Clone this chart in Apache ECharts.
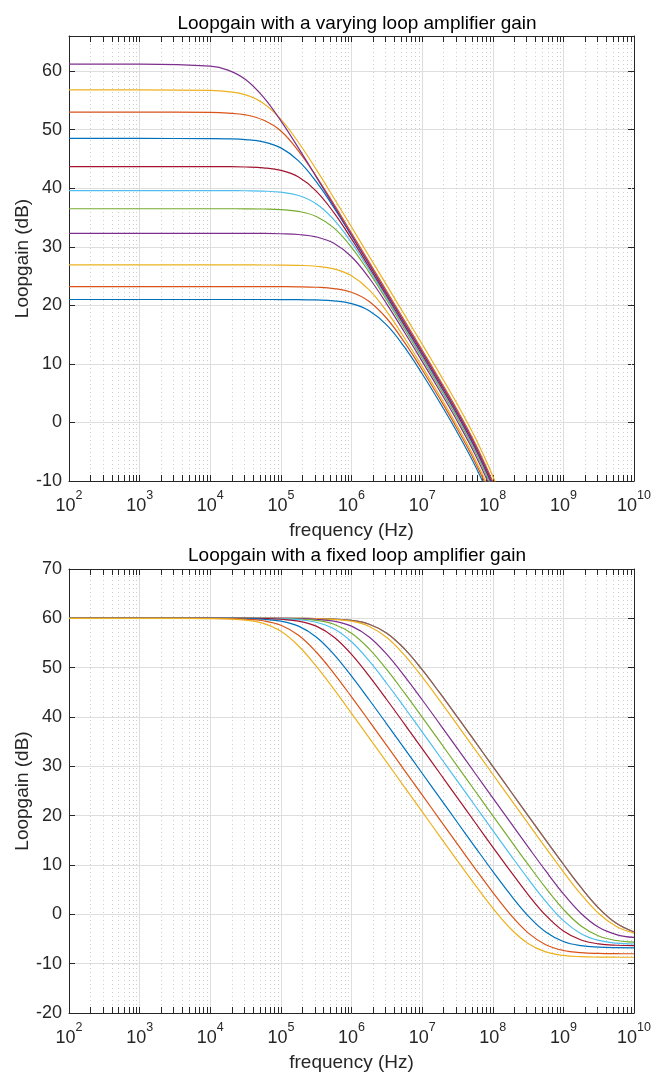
<!DOCTYPE html>
<html>
<head>
<meta charset="utf-8">
<title>Loopgain</title>
<script src="https://cdn.jsdelivr.net/npm/echarts@6/dist/echarts.min.js"></script>
<style>
html, body { margin: 0; padding: 0; background: #ffffff; }
#main { width: 654px; height: 1073px; }
</style>
</head>
<body>
<div id="main"></div>
<script>
// frequency samples (Hz), quarter decades in the bends
var freq = [100, 1000, 10000, 17783, 31623, 56234, 1e5, 177828, 316228, 562341,
    1e6, 1778279, 3162278, 5623413, 1e7, 17782794, 31622777, 56234133,
    1e8, 177827941, 316227766, 562341325, 1e9, 1778279410, 3162277660, 5623413252, 1e10];

// top plot: loop gain (dB) for a varying loop amplifier gain
var vary1 = [21.0, 21.0, 21.0, 21.0, 21.0, 21.0, 20.99, 20.98, 20.92, 20.77, 20.30, 19.09, 16.62, 12.86, 8.32, 3.41, -1.76, -7.38, -13.94, -21.86, -30.92];
var vary2 = [23.2, 23.2, 23.2, 23.2, 23.2, 23.2, 23.19, 23.17, 23.09, 22.87, 22.23, 20.66, 17.75, 13.67, 9.0, 4.04, -1.15, -6.78, -13.34, -21.26, -30.32];
var vary3 = [26.9, 26.9, 26.9, 26.9, 26.9, 26.89, 26.88, 26.83, 26.68, 26.23, 25.06, 22.65, 18.94, 14.43, 9.58, 4.56, -0.64, -6.27, -12.84, -20.76, -29.82];
var vary4 = [32.3, 32.3, 32.3, 32.3, 32.29, 32.28, 32.23, 32.10, 31.69, 30.60, 28.29, 24.67, 20.22, 15.40, 10.44, 5.38, 0.17, -5.47, -12.04, -19.96, -29.02];
var vary5 = [36.5, 36.5, 36.5, 36.5, 36.49, 36.45, 36.35, 36.04, 35.18, 33.23, 29.92, 25.63, 20.88, 15.95, 10.96, 5.89, 0.67, -4.97, -11.54, -19.46, -28.52];
var vary6 = [39.6, 39.6, 39.6, 39.59, 39.57, 39.51, 39.32, 38.76, 37.35, 34.63, 30.70, 26.10, 21.24, 16.27, 11.26, 6.19, 0.97, -4.67, -11.24, -19.16, -28.22];
var vary7 = [43.7, 43.7, 43.69, 43.68, 43.63, 43.48, 43.05, 41.91, 39.51, 35.83, 31.34, 26.52, 21.57, 16.58, 11.57, 6.49, 1.27, -4.37, -10.94, -18.86, -27.92];
var vary8 = [48.5, 48.5, 48.48, 48.44, 48.31, 47.92, 46.89, 44.67, 41.12, 36.70, 31.90, 26.97, 21.99, 16.99, 11.97, 6.89, 1.67, -3.97, -10.54, -18.46, -27.52];
var vary9 = [53.0, 53.0, 52.95, 52.84, 52.53, 51.65, 49.78, 46.34, 42.04, 37.28, 32.36, 27.39, 22.4, 17.39, 12.37, 7.29, 2.07, -3.57, -10.14, -18.06, -27.12];
var vary10 = [56.8, 56.8, 56.71, 56.51, 55.94, 54.51, 51.76, 47.81, 43.21, 38.34, 33.38, 28.39, 23.4, 18.39, 13.37, 8.29, 3.07, -2.57, -9.14, -17.06, -26.12];
var vary11 = [61.2, 61.2, 60.85, 60.18, 58.57, 55.60, 51.51, 46.84, 41.95, 36.98, 32.0, 27.0, 22.0, 16.99, 11.97, 6.89, 1.67, -3.97, -10.54, -18.46, -27.52];

// bottom plot: loop gain (dB) for a fixed loop amplifier gain
var fixed1 = [60, 60, 60, 60, 60, 60, 60, 59.99, 59.96, 59.86, 59.59, 58.81, 56.99, 53.81, 49.59, 44.87, 39.96, 34.99, 30.00, 25.00, 20.01, 15.05, 10.15, 5.44, 1.27, -1.83, -3.57];
var fixed2 = [60, 60, 60, 60, 60, 60, 60, 59.99, 59.96, 59.86, 59.59, 58.81, 56.99, 53.81, 49.59, 44.87, 39.96, 34.99, 30.00, 25.00, 20.01, 15.05, 10.15, 5.44, 1.27, -1.83, -3.57];
var fixed3 = [60, 60, 60, 60, 60, 60, 59.99, 59.98, 59.93, 59.80, 59.41, 58.36, 56.11, 52.54, 48.11, 43.31, 38.37, 33.39, 28.40, 23.41, 18.42, 13.47, 8.61, 4.04, 0.16, -2.48, -3.81];
var fixed4 = [60, 60, 60, 60, 60, 59.99, 59.98, 59.94, 59.81, 59.44, 58.42, 56.23, 52.70, 48.29, 43.50, 38.57, 33.59, 28.60, 23.61, 18.62, 13.66, 8.79, 4.16, 0.18, -2.63, -4.10, -4.69];
var fixed5 = [60, 60, 60, 60, 60, 59.99, 59.96, 59.86, 59.59, 58.81, 56.99, 53.81, 49.59, 44.87, 39.96, 34.99, 30.00, 25.00, 20.01, 15.04, 10.11, 5.35, 1.02, -2.37, -4.40, -5.31, -5.64];
var fixed6 = [60, 60, 60, 60, 59.99, 59.97, 59.91, 59.73, 59.21, 57.88, 55.24, 51.36, 46.79, 41.93, 36.98, 31.99, 27.00, 22.01, 17.02, 12.07, 7.21, 2.63, -1.27, -3.93, -5.29, -5.83, -6.01];
var fixed7 = [60, 60, 60, 59.99, 59.98, 59.94, 59.81, 59.44, 58.42, 56.23, 52.70, 48.29, 43.50, 38.57, 33.59, 28.60, 23.60, 18.61, 13.64, 8.74, 4.01, -0.21, -3.39, -5.21, -5.99, -6.27, -6.36];
var fixed8 = [60, 60, 59.99, 59.98, 59.94, 59.81, 59.44, 58.42, 56.23, 52.70, 48.29, 43.50, 38.57, 33.59, 28.60, 23.60, 18.61, 13.64, 8.72, 3.98, -0.30, -3.58, -5.50, -6.35, -6.65, -6.75, -6.78];
var fixed9 = [60, 60, 59.98, 59.95, 59.84, 59.51, 58.60, 56.57, 53.18, 48.85, 44.09, 39.17, 34.19, 29.20, 24.20, 19.21, 14.23, 9.28, 4.46, -0.04, -3.75, -6.16, -7.33, -7.78, -7.93, -7.98, -7.99];
var fixed10 = [60, 60, 59.96, 59.89, 59.65, 58.98, 57.37, 54.40, 50.31, 45.64, 40.75, 35.78, 30.79, 25.80, 20.80, 15.82, 10.85, 5.95, 1.26, -2.88, -5.93, -7.62, -8.33, -8.58, -8.66, -8.69, -8.70];

var colors = ['#0072BD', '#D95319', '#EDB120', '#7E2F8E', '#77AC30', '#4DBEEE', '#A2142F'];
var font = 'Liberation Sans, Arial, sans-serif';
var ink = '#262626';

var minorFreq = [];
for (var d = 2; d < 10; d++) {
    for (var m = 2; m < 10; m++) minorFreq.push(m * Math.pow(10, d));
}

function pairs(vals) {
    return vals.map(function (v, i) { return [freq[i], v]; });
}

function powLabel(v) {
    var e = Math.round(Math.log(v) / Math.LN10);
    return '{b|10}{e|' + e + '}';
}

var powRich = {
    b: { fontSize: 18, lineHeight: 26, verticalAlign: 'bottom', color: ink, fontFamily: font },
    e: { fontSize: 12.5, lineHeight: 14, verticalAlign: 'top', color: ink, fontFamily: font }
};

// dotted minor grid + small inward ticks at 2..9 of every decade
function minorGrid(yMin, yMax) {
    return function (params, api) {
        var lo = api.coord([api.value(0), yMin]);
        var hi = api.coord([api.value(0), yMax]);
        var x = Math.round(lo[0]) + 0.5;
        return {
            type: 'group',
            children: [
                { type: 'line', shape: { x1: x, y1: lo[1], x2: x, y2: hi[1] },
                  style: { stroke: '#cdcdcd', lineWidth: 1, lineDash: [1, 3] } },
                { type: 'line', shape: { x1: x, y1: lo[1], x2: x, y2: lo[1] - 6 },
                  style: { stroke: ink, lineWidth: 1 } },
                { type: 'line', shape: { x1: x, y1: hi[1], x2: x, y2: hi[1] + 6 },
                  style: { stroke: ink, lineWidth: 1 } }
            ]
        };
    };
}

function logAxis(grid, pos, main) {
    return {
        gridIndex: grid,
        type: 'log',
        logBase: 10,
        min: 100,
        max: 1e10,
        splitNumber: 8,
        position: pos,
        name: main ? 'frequency (Hz)' : '',
        nameLocation: 'middle',
        nameGap: 40,
        nameTextStyle: { fontSize: 19, color: ink, fontFamily: font },
        axisLine: { onZero: false, lineStyle: { color: ink, width: 1 } },
        axisTick: { inside: true, length: 6, lineStyle: { color: ink } },
        axisLabel: { show: main, formatter: powLabel, rich: powRich, margin: 8 },
        splitLine: { show: main, lineStyle: { color: '#dedede', width: 1 } }
    };
}

function dbAxis(grid, pos, lo, hi, main) {
    return {
        gridIndex: grid,
        type: 'value',
        min: lo,
        max: hi,
        interval: 10,
        position: pos,
        name: main ? 'Loopgain (dB)' : '',
        nameLocation: 'middle',
        nameRotate: 90,
        nameGap: 37,
        nameMoveOverlap: false,
        nameTextStyle: { fontSize: 19, color: ink, fontFamily: font },
        axisLine: { onZero: false, lineStyle: { color: ink, width: 1 } },
        axisTick: { inside: true, length: 6, lineStyle: { color: ink } },
        axisLabel: { show: main, showMaxLabel: hi % 10 === 0, margin: 7, fontSize: 18, color: ink, fontFamily: font },
        splitLine: { show: main, lineStyle: { color: '#dedede', width: 1 } }
    };
}

var varying = [vary1, vary2, vary3, vary4, vary5, vary6, vary7, vary8, vary9, vary10, vary11];
var fixedAmp = [fixed1, fixed2, fixed3, fixed4, fixed5, fixed6, fixed7, fixed8, fixed9, fixed10];

var series = [
    { type: 'custom', xAxisIndex: 0, yAxisIndex: 0, silent: true, z: 1,
      renderItem: minorGrid(-10, 66), encode: { x: 0, y: 1 },
      data: minorFreq.map(function (f) { return [f, 0]; }) },
    { type: 'custom', xAxisIndex: 2, yAxisIndex: 2, silent: true, z: 1,
      renderItem: minorGrid(-20, 70), encode: { x: 0, y: 1 },
      data: minorFreq.map(function (f) { return [f, 0]; }) }
];

varying.forEach(function (vals, i) {
    series.push({
        type: 'line', xAxisIndex: 0, yAxisIndex: 0, data: pairs(vals),
        showSymbol: false, smooth: 0.4, silent: true, z: 3,
        lineStyle: { width: 1.2, color: colors[i % 7] }
    });
});

fixedAmp.forEach(function (vals, i) {
    series.push({
        type: 'line', xAxisIndex: 2, yAxisIndex: 2, data: pairs(vals),
        showSymbol: false, smooth: 0.4, silent: true, z: 3,
        lineStyle: { width: 1.2, color: colors[i % 7], opacity: i === 1 ? 0.75 : 1 }
    });
});

var chart = echarts.init(document.getElementById('main'));
var option = {
    animation: false,
    backgroundColor: '#ffffff',
    textStyle: { fontFamily: font },
    title: [
        { text: 'Loopgain with a varying loop amplifier gain', left: 352, top: 9, textAlign: 'center',
          textStyle: { fontSize: 19, fontWeight: 'normal', color: '#000000', fontFamily: font } },
        { text: 'Loopgain with a fixed loop amplifier gain', left: 352, top: 541, textAlign: 'center',
          textStyle: { fontSize: 19, fontWeight: 'normal', color: '#000000', fontFamily: font } }
    ],
    grid: [
        { left: 69, top: 36, width: 566, height: 445 },
        { left: 69, top: 569, width: 566, height: 444 }
    ],
    xAxis: [
        logAxis(0, 'bottom', true),
        logAxis(0, 'top', false),
        logAxis(1, 'bottom', true),
        logAxis(1, 'top', false)
    ],
    yAxis: [
        dbAxis(0, 'left', -10, 66, true),
        dbAxis(0, 'right', -10, 66, false),
        dbAxis(1, 'left', -20, 70, true),
        dbAxis(1, 'right', -20, 70, false)
    ],
    series: series
};
chart.setOption(option);
</script>
</body>
</html>
